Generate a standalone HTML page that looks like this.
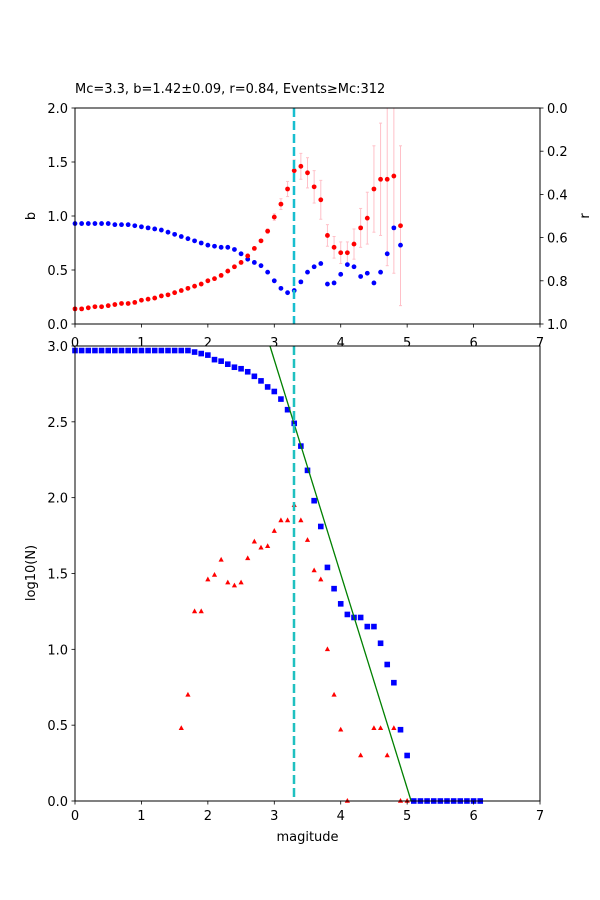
<!DOCTYPE html>
<html><head><meta charset="utf-8"><style>
html,body{margin:0;padding:0;background:#fff;}
svg{display:block;font-family:"DejaVu Sans","Liberation Sans",sans-serif;}
</style></head><body>
<svg id="s" width="600" height="900" xmlns="http://www.w3.org/2000/svg">
<rect width="600" height="900" fill="#fff"/>
<text x="75" y="93" font-size="13">Mc=3.3, b=1.42±0.09, r=0.84, Events≥Mc:312</text>
<g id="g"></g>
</svg>
<script>
var g=document.getElementById('g');var h='';
function X(m){return 75+m*66.43;}
function YT(b){return 324-b*108;}
function YB(v){return 801-v*151.67;}
// top x tick labels (partly covered by bottom axes)
for(var i=0;i<=7;i++){h+='<line x1="'+X(i)+'" y1="324" x2="'+X(i)+'" y2="327.5" stroke="#000" stroke-width="0.8"/>';h+='<text x="'+X(i)+'" y="347" font-size="13" text-anchor="middle">'+i+'</text>';}
// top y ticks
for(var i=0;i<=4;i++){var b=i*0.5,y=YT(b);h+='<line x1="71.5" y1="'+y+'" x2="75" y2="'+y+'" stroke="#000" stroke-width="0.8"/><text x="68" y="'+(y+5)+'" font-size="13" text-anchor="end">'+b.toFixed(1)+'</text>';}
for(var i=0;i<=5;i++){var r=i*0.2,y=108+r*216;h+='<line x1="540" y1="'+y+'" x2="543.5" y2="'+y+'" stroke="#000" stroke-width="0.8"/><text x="547" y="'+(y+5)+'" font-size="13">'+r.toFixed(1)+'</text>';}
h+='<text transform="translate(35,216) rotate(-90)" font-size="13" text-anchor="middle">b</text>';
h+='<text transform="translate(589,216) rotate(-90)" font-size="13" text-anchor="middle">r</text>';
var red=[0.14,0.14,0.15,0.16,0.16,0.17,0.18,0.19,0.19,0.2,0.22,0.23,0.24,0.26,0.27,0.29,0.31,0.33,0.35,0.37,0.40,0.42,0.45,0.49,0.53,0.57,0.63,0.70,0.77,0.86,0.99,1.11,1.25,1.42,1.46,1.40,1.27,1.15,0.82,0.71,0.66,0.66,0.74,0.89,0.98,1.25,1.34,1.34,1.37,0.91];
var err={29:0.02,30:0.03,31:0.05,32:0.07,33:0.1,34:0.12,35:0.14,36:0.15,37:0.18,38:0.1,39:0.1,40:0.1,41:0.1,42:0.14,43:0.18,44:0.24,45:0.4,46:0.52,47:0.8,48:0.9,49:0.74};
var blue=[0.93,0.93,0.93,0.93,0.93,0.93,0.92,0.92,0.92,0.91,0.90,0.89,0.88,0.87,0.85,0.83,0.81,0.79,0.77,0.75,0.73,0.72,0.71,0.71,0.69,0.65,0.60,0.57,0.54,0.48,0.40,0.33,0.29,0.31,0.39,0.48,0.53,0.56,0.37,0.38,0.46,0.55,0.53,0.44,0.47,0.38,0.48,0.65,0.89,0.73];
for(var k in err){var m=k/10,x=X(m),y1=Math.max(108,YT(red[k]+err[k])),y2=YT(red[k]-err[k]);h+='<line x1="'+x+'" y1="'+y1+'" x2="'+x+'" y2="'+y2+'" stroke="#ffc0c8" stroke-width="1"/>';h+='<line x1="'+(x-1.5)+'" y1="'+y1+'" x2="'+(x+1.5)+'" y2="'+y1+'" stroke="#ffc0c8"/><line x1="'+(x-1.5)+'" y1="'+y2+'" x2="'+(x+1.5)+'" y2="'+y2+'" stroke="#ffc0c8"/>';}
for(var i=0;i<50;i++){var x=X(i/10);h+='<circle cx="'+x+'" cy="'+YT(blue[i])+'" r="2.4" fill="#0000ff"/>';h+='<circle cx="'+x+'" cy="'+YT(red[i])+'" r="2.4" fill="#ff0000"/>';}
h+='<line x1="294" y1="108" x2="294" y2="324" stroke="#17becf" stroke-width="2.5" stroke-dasharray="9,4" stroke="#1fc0c0"/>';
h+='<rect x="75" y="108" width="465" height="216" fill="none" stroke="#000" stroke-width="1"/>';
// bottom axes
h+='<rect x="75" y="346" width="465" height="455" fill="#fff"/>';
var sq=[];for(var i=0;i<=17;i++)sq.push(2.97);
sq=sq.concat([2.96,2.95,2.94,2.91,2.90,2.88,2.86,2.85,2.83,2.80,2.77,2.73,2.70,2.65,2.58,2.49,2.34,2.18,1.98,1.81,1.54,1.40,1.30,1.23,1.21,1.21,1.15,1.15,1.04,0.90,0.78,0.47,0.30]);
for(var i=51;i<=61;i++)sq.push(0);
var tri={16:0.48,17:0.70,18:1.25,19:1.25,20:1.46,21:1.49,22:1.59,23:1.44,24:1.42,25:1.44,26:1.60,27:1.71,28:1.67,29:1.68,30:1.78,31:1.85,32:1.85,33:1.95,34:1.85,35:1.72,36:1.52,37:1.46,38:1.00,39:0.70,40:0.47,41:0,43:0.30,45:0.48,46:0.48,47:0.30,48:0.48,49:0,50:0};
for(var k in tri){var x=X(k/10),y=YB(tri[k]);h+='<polygon points="'+x+','+(y-3)+' '+(x-2.6)+','+(y+1.8)+' '+(x+2.6)+','+(y+1.8)+'" fill="#ff0000"/>';}
for(var i=0;i<sq.length;i++){var x=X(i/10),y=YB(sq[i]);h+='<rect x="'+(x-2.8)+'" y="'+(y-2.8)+'" width="5.6" height="5.6" fill="#0000ff"/>';}
h+='<line x1="'+X(2.935)+'" y1="346" x2="'+X(5.06)+'" y2="801" stroke="#008000" stroke-width="1.3"/>';
h+='<line x1="294" y1="346" x2="294" y2="801" stroke="#1fc0c0" stroke-width="2.5" stroke-dasharray="9,4"/>';
h+='<rect x="75" y="346" width="465" height="455" fill="none" stroke="#000" stroke-width="1"/>';
for(var i=0;i<=7;i++){h+='<line x1="'+X(i)+'" y1="801" x2="'+X(i)+'" y2="804.5" stroke="#000" stroke-width="0.8"/><text x="'+X(i)+'" y="820" font-size="13" text-anchor="middle">'+i+'</text>';}
for(var i=0;i<=6;i++){var v=i*0.5,y=YB(v);h+='<line x1="71.5" y1="'+y+'" x2="75" y2="'+y+'" stroke="#000" stroke-width="0.8"/><text x="68" y="'+(y+5)+'" font-size="13" text-anchor="end">'+v.toFixed(1)+'</text>';}
h+='<text x="307.5" y="841" font-size="13" text-anchor="middle">magitude</text>';
h+='<text transform="translate(35,573) rotate(-90)" font-size="13" text-anchor="middle">log10(N)</text>';
g.innerHTML=h;
</script>
</body></html>
